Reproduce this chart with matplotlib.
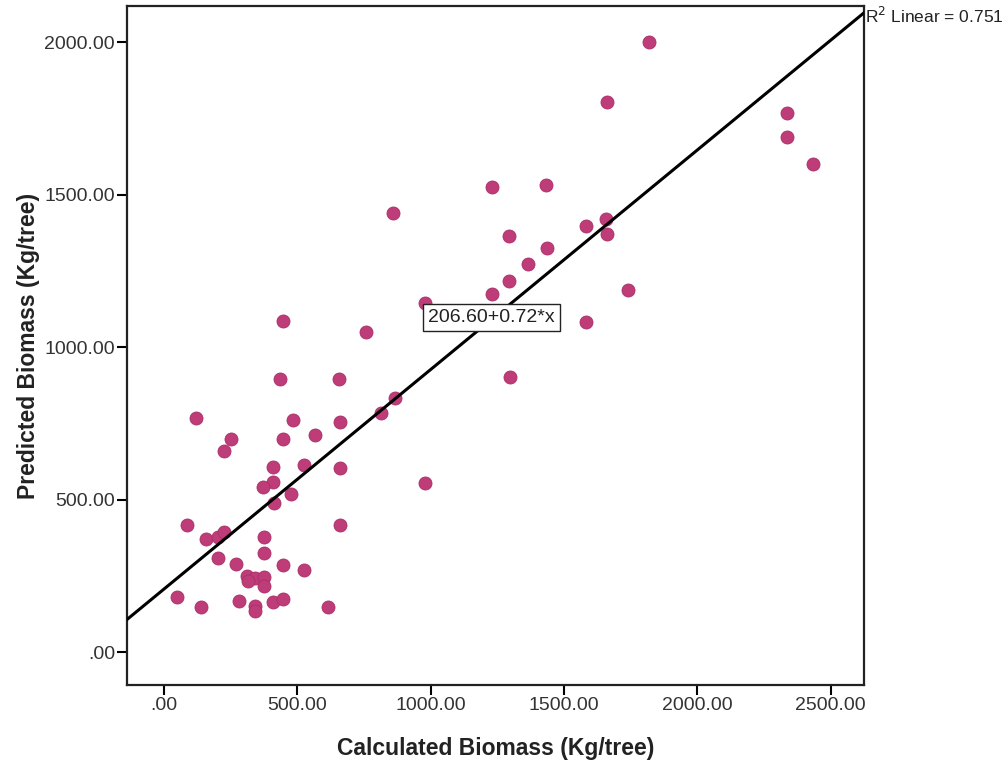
import matplotlib
matplotlib.use("Agg")
import matplotlib.pyplot as plt
import numpy as np

plt.rcParams['font.family'] = ['Liberation Sans', 'DejaVu Sans']

# Calculated vs predicted biomass (Kg/tree)
calculated = [1819, 1661, 2337, 2337, 2435, 1434, 1231, 857, 1582, 1659,
              1661, 1294, 1437, 1365, 1294, 1740, 1228, 978, 1584, 447,
              757, 1297, 435, 657, 866, 812, 119, 485, 660, 568,
              251, 447, 225, 410, 525, 660, 410, 372, 978, 475,
              412, 87, 660, 157, 204, 225, 375, 375, 201, 270,
              447, 526, 310, 340, 376, 316, 376, 50, 137, 280,
              341, 341, 410, 447, 614]
predicted = [2001, 1803, 1768, 1690, 1600, 1531, 1524, 1440, 1398, 1420,
             1371, 1365, 1324, 1272, 1216, 1187, 1173, 1145, 1083, 1086,
             1050, 902, 895, 895, 832, 785, 766, 761, 754, 713,
             698, 698, 659, 608, 613, 603, 558, 540, 553, 518,
             488, 415, 416, 371, 378, 395, 376, 324, 307, 288,
             285, 270, 250, 244, 246, 233, 218, 181, 149, 166,
             150, 134, 164, 173, 148]

# fit line reported on the chart
intercept = 206.60
slope = 0.72
r2 = 0.751

x_ticks = [0, 500, 1000, 1500, 2000, 2500]
x_ticklabels = ['.00', '500.00', '1000.00', '1500.00', '2000.00', '2500.00']
y_ticks = [0, 500, 1000, 1500, 2000]
y_ticklabels = ['.00', '500.00', '1000.00', '1500.00', '2000.00']

fig = plt.figure(figsize=(10.06, 7.61), dpi=100)
ax = fig.add_axes([0.1267, 0.0999, 0.732, 0.892])

ax.scatter(calculated, predicted, s=88, color='#BE3C78', edgecolors='#A8306A',
           linewidths=0.6, zorder=3)

xmin, xmax = -137, 2624
ymin, ymax = -108, 2118
xl = np.array([xmin, xmax])
ax.plot(xl, intercept + slope * xl, color='black', linewidth=2.2, zorder=4)

ax.set_xlim(xmin, xmax)
ax.set_ylim(ymin, ymax)
ax.set_xticks(x_ticks)
ax.set_xticklabels(x_ticklabels, fontsize=14, color='#333333')
ax.set_yticks(y_ticks)
ax.set_yticklabels(y_ticklabels, fontsize=14, color='#333333')
ax.tick_params(direction='out', length=7, width=1.5, pad=2)

for sp in ax.spines.values():
    sp.set_linewidth(1.6)
    sp.set_color('#222222')

ax.set_xlabel('Calculated Biomass (Kg/tree)', fontsize=16.5, fontweight='bold',
              color='#222222', labelpad=16)
ax.set_ylabel('Predicted Biomass (Kg/tree)', fontsize=16.5, fontweight='bold',
              color='#222222', labelpad=3)

# equation label on the line
ax.text(990, 1098, f'{intercept:.2f}+{slope:.2f}*x', fontsize=14, ha='left', va='center',
        color='#222222', zorder=5,
        bbox=dict(boxstyle='square,pad=0.25', facecolor='white', edgecolor='#222222',
                  linewidth=1.0))

# R^2 annotation at top right, outside the axes
ax.text(1.001, 0.985, f'R$^2$ Linear = {r2:.3f}', transform=ax.transAxes,
        fontsize=12.5, ha='left', va='center', color='#222222', clip_on=False)

fig.savefig('out.png', dpi=100, facecolor='white')
